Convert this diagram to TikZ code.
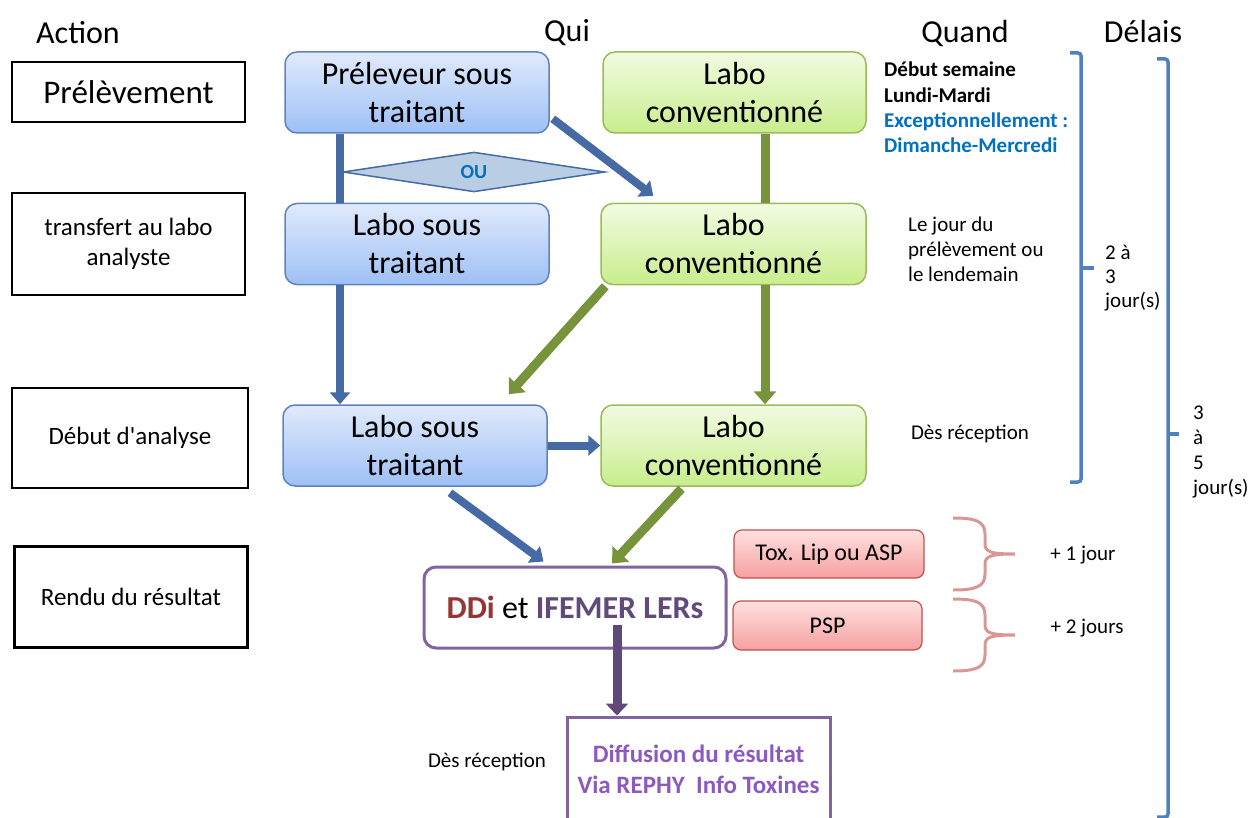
\documentclass[tikz,border=0pt]{standalone}
\usepackage{fontspec}
\setmainfont{Carlito}
\usetikzlibrary{arrows.meta,shapes.geometric,calc}

\definecolor{blueTop}{RGB}{224,234,252}
\definecolor{blueBot}{RGB}{158,192,245}
\definecolor{blueEdge}{RGB}{95,130,190}
\definecolor{arrBlue}{RGB}{70,106,164}
\definecolor{greenTop}{RGB}{242,251,226}
\definecolor{greenBot}{RGB}{200,237,140}
\definecolor{greenEdge}{RGB}{155,187,89}
\definecolor{arrGreen}{RGB}{119,147,60}
\definecolor{pinkTop}{RGB}{255,224,224}
\definecolor{pinkBot}{RGB}{246,160,160}
\definecolor{pinkEdge}{RGB}{192,80,77}
\definecolor{braceRose}{RGB}{217,150,148}
\definecolor{purpleEdge}{RGB}{128,100,162}
\definecolor{purpleArr}{RGB}{95,73,122}
\definecolor{ddiRed}{RGB}{150,54,52}
\definecolor{ifemer}{RGB}{96,74,123}
\definecolor{diffText}{RGB}{140,90,190}
\definecolor{bracketBlue}{RGB}{79,129,189}
\definecolor{excBlue}{RGB}{0,112,192}
\definecolor{ouFill}{RGB}{185,205,229}

\tikzset{
  hdr/.style={inner sep=0pt, font=\fontsize{32}{38}\selectfont},
  actbox/.style={draw=black, line width=2.5pt, minimum width=233pt, align=center, inner sep=2pt},
  bluebox/.style={rounded corners=12pt, draw=blueEdge, line width=1.5pt, top color=blueTop, bottom color=blueBot,
    minimum width=264pt, minimum height=81pt, align=center, font=\fontsize{32}{38}\selectfont},
  greenbox/.style={rounded corners=12pt, draw=greenEdge, line width=1.5pt, top color=greenTop, bottom color=greenBot,
    minimum width=264pt, minimum height=81pt, align=center, font=\fontsize{32}{38}\selectfont},
  pinkbox/.style={rounded corners=8pt, draw=pinkEdge, line width=1.2pt, top color=pinkTop, bottom color=pinkBot,
    minimum width=190pt, minimum height=48pt, align=center, font=\fontsize{24}{28}\selectfont},
  note/.style={inner sep=0pt, align=left, font=\fontsize{21}{25}\selectfont},
  blueline/.style={draw=arrBlue, line width=8pt},
  bluearrow/.style={blueline, -{Triangle[width=20pt,length=12pt]}},
  greenline/.style={draw=arrGreen, line width=9pt},
  greenarrow/.style={greenline, -{Triangle[width=22pt,length=13pt]}},
  purplearrow/.style={draw=purpleArr, line width=9pt, -{Triangle[width=22pt,length=12pt]}},
  bracket/.style={draw=bracketBlue, line width=3.5pt, rounded corners=3pt},
  pbrace/.pic={
    \draw[draw=braceRose, line width=3pt]
      (0,0) .. controls (22,0) and (32,3) .. (32,16) -- (32,26)
      .. controls (32,34) and (38,36) .. (62,36)
      (0,72) .. controls (22,72) and (32,69) .. (32,56) -- (32,46)
      .. controls (32,38) and (38,36) .. (62,36);
  }
}

\begin{document}
\begin{tikzpicture}[x=1pt,y=-1pt]
\useasboundingbox (0,0) rectangle (1252,818);

% column headers
\node[hdr] (hAction) at (78,33) {Action};
\node[hdr] (hQui) at (567,33) {Qui};
\node[hdr] (hQuand) at (965,34) {Quand};
\node[hdr] (hDelais) at (1143,32) {Délais};

% action column
\node[actbox, minimum height=60pt, font=\fontsize{33}{38}\selectfont] (a1) at (128.5,92) {Prélèvement};
\node[actbox, minimum height=102pt, font=\fontsize{25}{30}\selectfont] (a2) at (128.5,244) {transfert au labo\\analyste};
\node[actbox, minimum width=236pt, minimum height=100pt, font=\fontsize{25}{30}\selectfont] (a3) at (130,438) {Début d\textquotesingle analyse};
\node[actbox, minimum height=101pt, font=\fontsize{25}{30}\selectfont] (a4) at (131,597) {Rendu du résultat};

% actors
\node[bluebox] (b1) at (417,92.5) {Préleveur sous\\traitant};
\node[bluebox] (b2) at (417,244) {Labo sous\\traitant};
\node[bluebox] (b3) at (415,445.5) {Labo sous\\traitant};
\node[greenbox, minimum width=263pt] (g1) at (734.5,92.5) {Labo\\conventionné};
\node[greenbox, minimum width=265pt] (g2) at (733.5,244) {Labo\\conventionné};
\node[greenbox, minimum width=265pt] (g3) at (733.5,445.5) {Labo\\conventionné};

\coordinate (colL) at (340,0);
\coordinate (colR) at (765,0);
\coordinate (colP) at (617,0);

% result boxes
\node[rounded corners=12pt, draw=purpleEdge, line width=3pt, fill=white, minimum width=302pt, minimum height=81pt,
  font=\bfseries\fontsize{32}{36}\selectfont] (ddi) at (575,607.5)
  {\textcolor{ddiRed}{DDi} {\mdseries et} \textcolor{ifemer}{IFEMER LERs}};
\node[draw=purpleEdge, line width=3pt, fill=white, minimum width=263pt, minimum height=104pt, align=center,
  text=diffText, font=\bfseries\fontsize{25}{31}\selectfont] (diff) at (698.5,769)
  {Diffusion du résultat\\Via REPHY\ \ Info Toxines};

\node[pinkbox] (p1) at (829,554) {Tox. Lip ou ASP};
\node[pinkbox, minimum width=189pt, minimum height=49pt] (p2) at (827.5,625.5) {PSP};

% connectors
\draw[blueline] (b1.south -| colL) -- (b2.north -| colL);
\draw[bluearrow] ($(b1.south east)+(3,-15)$) -- ($(g2.north west)+(53,-7)$);
\node[diamond, draw=arrBlue, fill=ouFill, line width=1.5pt, minimum width=262pt, minimum height=31pt, inner sep=0pt,
  text=excBlue, font=\bfseries\fontsize{20}{20}\selectfont] (ou) at (474,172) {OU};
\draw[bluearrow] (b2.south -| colL) -- (b3.north -| colL);
\draw[greenline] (g1.south -| colR) -- (g2.north -| colR);
\draw[greenarrow] (g2.south -| colR) -- (g3.north -| colR);
\draw[greenarrow] ($(g2.south west)+(5,1)$) -- ($(b3.north east)+(-39,-10)$);
\draw[bluearrow] (b3.east) -- (g3.west);
\draw[bluearrow] ($(b3.south)+(35,6)$) -- ($(ddi.north west)+(121,-4)$);
\draw[greenarrow] ($(g3.south)+(-52,2)$) -- ($(ddi.north)+(37,-2)$);
\draw[purplearrow] ($(ddi.center -| colP)+(0,17)$) -- (diff.north -| colP);

% timing notes
\node[note, anchor=north west, font=\bfseries\fontsize{21}{25.3}\selectfont] (q1) at (884,62)
  {Début semaine\\Lundi-Mardi\\\textcolor{excBlue}{Exceptionnellement :}\\\textcolor{excBlue}{Dimanche-Mercredi}};
\node[note, anchor=north west] (q2) at (908,217) {Le jour du\\prélèvement ou\\le lendemain};
\node[note] (q3) at (970,434) {Dès réception};
\node[note] (q4) at (487,762) {Dès réception};
\node[note, anchor=north west, font=\fontsize{21}{24}\selectfont] (d1) at (1105,245) {2 à\\3\\jour(s)};
\node[note, anchor=north west] (d2) at (1193,406) {3\\à\\5\\jour(s)};
\node[note] (e1) at (1083,555) {+ 1 jour};
\node[note] (e2) at (1087,628) {+ 2 jours};

% braces
\pic at (953,518) {pbrace};
\pic at (953,599) {pbrace};
\draw[bracket] (1070,53) -- (1081,53) -- (1081,482) -- (1070,482);
\draw[draw=bracketBlue, line width=3.5pt] (1081,268) -- (1094,268);
\draw[bracket] (1157,59) -- (1168,59) -- (1168,817) -- (1157,817);
\draw[draw=bracketBlue, line width=3.5pt] (1168,434) -- (1179,434);
\end{tikzpicture}
\end{document}
